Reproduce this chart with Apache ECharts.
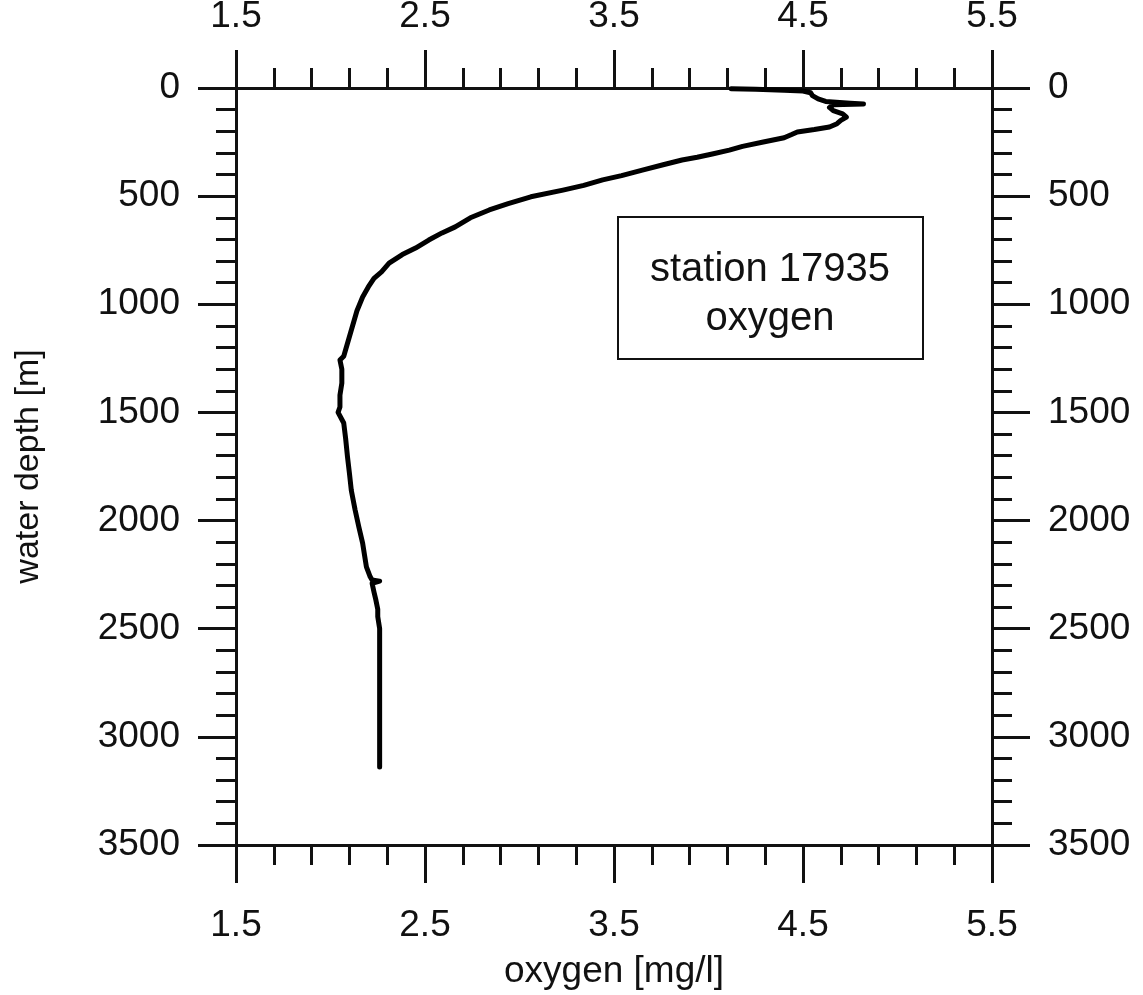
<!DOCTYPE html>
<html>
<head>
<meta charset="utf-8">
<script src="https://cdn.jsdelivr.net/npm/echarts@6/dist/echarts.min.js"></script>
<style>html,body{margin:0;padding:0;background:#fff;}#chart{width:1143px;height:995px;}</style>
</head>
<body>
<div id="chart"></div>
<script>
// depth [m] and oxygen [mg/l] read from the profile
const depth = [3, 6, 10, 14, 22, 35, 50, 62, 70, 74, 78, 90, 105, 120, 135, 150, 165, 180, 192, 203, 215, 230, 250, 270, 287, 305, 320, 333, 355, 380, 405, 425, 450, 472, 503, 535, 564, 600, 642, 670, 703, 740, 770, 810, 850, 880, 920, 966, 1030, 1090, 1150, 1210, 1240, 1258, 1300, 1364, 1420, 1475, 1500, 1549, 1620, 1706, 1780, 1860, 1950, 2030, 2104, 2160, 2214, 2260, 2275, 2280, 2290, 2330, 2367, 2410, 2444, 2500, 2598, 2700, 2829, 2900, 2983, 3060, 3139];
const oxygen = [4.12, 4.25, 4.40, 4.50, 4.54, 4.55, 4.58, 4.62, 4.75, 4.82, 4.66, 4.64, 4.66, 4.71, 4.73, 4.70, 4.68, 4.64, 4.56, 4.47, 4.44, 4.40, 4.29, 4.18, 4.11, 4.02, 3.94, 3.86, 3.76, 3.65, 3.54, 3.44, 3.34, 3.23, 3.06, 2.94, 2.84, 2.74, 2.66, 2.59, 2.52, 2.45, 2.38, 2.31, 2.27, 2.23, 2.20, 2.17, 2.14, 2.12, 2.10, 2.08, 2.07, 2.05, 2.06, 2.06, 2.05, 2.05, 2.04, 2.07, 2.08, 2.09, 2.10, 2.11, 2.13, 2.15, 2.17, 2.18, 2.19, 2.21, 2.22, 2.26, 2.22, 2.23, 2.24, 2.25, 2.25, 2.26, 2.26, 2.26, 2.26, 2.26, 2.26, 2.26, 2.26];
const xTicks = [1.5, 2.5, 3.5, 4.5, 5.5];
const yTicks = [0, 500, 1000, 1500, 2000, 2500, 3000, 3500];
const boxLines = ['station 17935', 'oxygen'];
const xTitle = 'oxygen [mg/l]';
const yTitle = 'water depth [m]';

const FONT = 'Liberation Sans, Arial, Helvetica, sans-serif';
const INK = '#111';
const data = depth.map((d, i) => [oxygen[i], d]);

const axisLine = { show: true, onZero: false, lineStyle: { color: INK, width: 3 } };
const axisTick = { show: true, length: 38, lineStyle: { color: INK, width: 3 } };
const minorTick = { show: true, splitNumber: 5, length: 20, lineStyle: { color: INK, width: 3 } };
const lbl = { color: INK, fontFamily: FONT, fontSize: 37 };

function xAxis(pos, withName) {
  return {
    type: 'value', position: pos, min: xTicks[0], max: xTicks[xTicks.length - 1], interval: 1,
    axisLine, axisTick, minorTick, splitLine: { show: false },
    axisLabel: Object.assign({ margin: pos === 'top' ? 53 : 62, formatter: v => v.toFixed(1) }, lbl),
    name: withName ? xTitle : '', nameLocation: 'middle', nameGap: 108,
    nameTextStyle: { color: INK, fontFamily: FONT, fontSize: 37 }
  };
}
function yAxis(pos, withName) {
  return {
    type: 'value', position: pos, inverse: true, min: yTicks[0], max: yTicks[yTicks.length - 1], interval: 500,
    axisLine, axisTick, minorTick, splitLine: { show: false },
    axisLabel: Object.assign({ margin: 56, formatter: v => String(v) }, lbl),
    name: withName ? yTitle : '', nameLocation: 'middle', nameGap: 190, nameRotate: 90,
    nameTextStyle: { color: INK, fontFamily: FONT, fontSize: 34 }
  };
}

const chart = echarts.init(document.getElementById('chart'), null, { renderer: 'canvas' });
chart.setOption({
  backgroundColor: '#fff',
  animation: false,
  grid: { left: 236, right: 151, top: 88, bottom: 150, containLabel: false, outerBoundsMode: 'none' },
  xAxis: [xAxis('bottom', true), xAxis('top', false)],
  yAxis: [yAxis('left', true), yAxis('right', false)],
  series: [{
    type: 'line', data, xAxisIndex: 0, yAxisIndex: 0,
    showSymbol: false, smooth: false,
    lineStyle: { color: '#000', width: 5, join: 'round', cap: 'round' }
  }],
  graphic: [{
    type: 'group', left: 617, top: 216,
    children: [
      { type: 'rect', shape: { x: 0, y: 0, width: 305, height: 142 },
        style: { fill: '#fff', stroke: INK, lineWidth: 2 } },
      { type: 'text', x: 152, y: 77,
        style: { text: boxLines.join('\n'), fill: INK, font: '40px ' + FONT, align: 'center', verticalAlign: 'middle', lineHeight: 49 } }
    ]
  }]
});
</script>
</body>
</html>
